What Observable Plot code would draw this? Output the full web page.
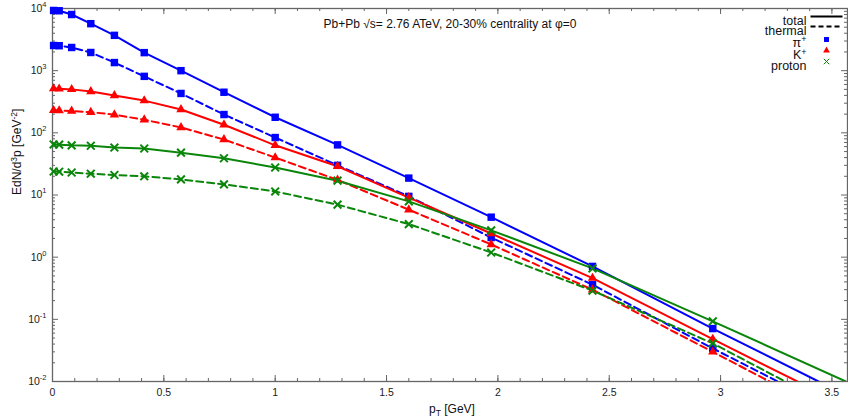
<!DOCTYPE html>
<html>
<head>
<meta charset="utf-8">
<script src="https://cdn.jsdelivr.net/npm/d3@7"></script>
<script src="https://cdn.jsdelivr.net/npm/@observablehq/plot@0.6"></script>
<style>
  html, body { margin: 0; padding: 0; background: #fff; }
</style>
</head>
<body>
<div id="chart"></div>
<script>
// ---- data ----
const pT = [0.005, 0.03, 0.086, 0.172, 0.278, 0.412, 0.577, 0.77, 1.0, 1.28, 1.6, 1.97, 2.425, 2.965];
const piTotal   = [9300, 9200, 8000, 5700, 3700, 1950, 1000, 450, 178, 64, 18.7, 4.4, 0.71, 0.071];
const piThermal = [2540, 2520, 2360, 1960, 1350, 810, 430, 197, 84, 30, 9.5, 2.07, 0.36, 0.034];
const kTotal    = [515, 510, 500, 462, 400, 330, 237, 135, 63, 29, 9.1, 2.4, 0.46, 0.048];
const kThermal  = [230, 228, 225, 215, 196, 162, 122, 78, 40, 17.5, 5.8, 1.6, 0.30, 0.030];
const pTotal    = [65, 64.5, 63, 62, 58, 56, 48, 39, 27.7, 17, 7.9, 2.7, 0.66, 0.093];
const pThermal  = [23.9, 23.7, 23, 22, 21, 20, 17.8, 14.8, 11.4, 7.0, 3.4, 1.19, 0.29, 0.041];
// where each curve leaves the frame at the bottom (y = 1e-2)
const seriesNames = ["piTotal", "piThermal", "kTotal", "kThermal", "pTotal", "pThermal"];
const seriesEndPT = [3.44, 3.257, 3.345, 3.22, 3.56, 3.29];
const seriesEndY  = [0.01, 0.01, 0.01, 0.01, 0.0101, 0.01];
const xMajor = [0, 0.5, 1, 1.5, 2, 2.5, 3, 3.5];
const yMajor = [1e-2, 1e-1, 1e0, 1e1, 1e2, 1e3, 1e4];
const legendLabels = ["total", "thermal", "π+", "K+", "proton"];
const titleText = "Pb+Pb √s= 2.76 ATeV, 20-30% centrality at φ=0";
const yTitle = "EdN/d^3p [GeV^-2]";
const xTitle = "p_T [GeV]";

// ---- styles ----
const BLUE = "#0000ff", RED = "#ff0000", GREEN = "#0a860a";
const AX = "#666";
const series = [
  {vals: piTotal,   color: BLUE,  dash: null, symbol: "square"},
  {vals: piThermal, color: BLUE,  dash: "7,4", symbol: "square"},
  {vals: kTotal,    color: RED,   dash: null, symbol: "triangle"},
  {vals: kThermal,  color: RED,   dash: "7,4", symbol: "triangle"},
  {vals: pTotal,    color: GREEN, dash: null, symbol: "times"},
  {vals: pThermal,  color: GREEN, dash: "7,4", symbol: "times"}
];

const W = 848, H = 419, mL = 52, mR = 1, mT = 8, mB = 38;
const fw = W - mL - mR, fh = H - mT - mB;

const xMinor = d3.range(0, 36).map(i => i / 10);
const yMinor = [];
for (let e = -2; e < 4; e++) for (let k = 2; k <= 9; k++) yMinor.push(k * Math.pow(10, e));

const marks = [];
// ticks (inward, mirrored on all sides)
marks.push(Plot.ruleX(xMinor, {insetTop: fh - 3, stroke: AX}));
marks.push(Plot.ruleX(xMinor, {insetBottom: fh - 3, stroke: AX}));
marks.push(Plot.ruleX(xMajor, {insetTop: fh - 6, stroke: AX}));
marks.push(Plot.ruleX(xMajor, {insetBottom: fh - 6, stroke: AX}));
marks.push(Plot.ruleY(yMinor, {insetRight: fw - 3, stroke: AX}));
marks.push(Plot.ruleY(yMinor, {insetLeft: fw - 3, stroke: AX}));
marks.push(Plot.ruleY(yMajor, {insetRight: fw - 6, stroke: AX}));
marks.push(Plot.ruleY(yMajor, {insetLeft: fw - 6, stroke: AX}));
marks.push(Plot.frame({stroke: AX, strokeWidth: 1.3}));

// tick labels
marks.push(Plot.axisX(xMajor, {tickSize: 0, tickPadding: 7, fontSize: 10.5, fill: "#222", tickFormat: d => String(d), label: null}));
marks.push(Plot.axisY(yMajor, {tickSize: 0, tickPadding: 6, fontSize: 10.5, fill: "#222", tickFormat: d => "10^" + Math.round(Math.log10(d)), label: null}));

// curves
series.forEach((s, i) => {
  const rows = s.vals.map((v, j) => ({x: pT[j], y: v}));
  rows.push({x: seriesEndPT[i], y: seriesEndY[i]});
  marks.push(Plot.line(rows, {x: "x", y: "y", stroke: s.color, strokeWidth: 2, strokeDasharray: s.dash, clip: true}));
});
// markers
series.forEach((s) => {
  const rows = s.vals.map((v, j) => ({x: pT[j], y: v}));
  if (s.symbol === "times") {
    marks.push(Plot.dot(rows, {x: "x", y: "y", symbol: "times", r: 3.6, stroke: s.color, strokeWidth: 2}));
  } else if (s.symbol === "square") {
    marks.push(Plot.dot(rows, {x: "x", y: "y", symbol: "square", r: 4.2, fill: s.color, stroke: null}));
  } else {
    marks.push(Plot.dot(rows, {x: "x", y: "y", symbol: "triangle", r: 3.5, fill: s.color, stroke: null}));
  }
});

// title
marks.push(Plot.text([titleText], {frameAnchor: "top", dy: 11, fontSize: 12, fill: "#111"}));
// axis titles
marks.push(Plot.text([yTitle], {frameAnchor: "left", dx: -35, rotate: -90, fontSize: 12, fill: "#111"}));
marks.push(Plot.text([xTitle], {frameAnchor: "bottom", dx: 2, dy: 31, fontSize: 12, fill: "#111"}));

// legend
const legDy = [8, 18, 30, 42, 53];
legendLabels.forEach((lab, i) => {
  marks.push(Plot.text([lab], {frameAnchor: "top-right", dx: -41, dy: legDy[i], textAnchor: "end", fontSize: 12.5, fill: "#111"}));
});
const hLine = {draw(ctx) { ctx.moveTo(-16, 0); ctx.lineTo(16, 0); }};
marks.push(Plot.dot([0], {frameAnchor: "top-right", dx: -21, dy: 8, symbol: hLine, stroke: "#000", strokeWidth: 2, fill: "none"}));
marks.push(Plot.dot([0], {frameAnchor: "top-right", dx: -21, dy: 18, symbol: hLine, stroke: "#000", strokeWidth: 2, fill: "none", strokeDasharray: "5,3"}));
marks.push(Plot.dot([0], {frameAnchor: "top-right", dx: -21, dy: 31, symbol: "square", r: 2.8, fill: BLUE, stroke: null}));
marks.push(Plot.dot([0], {frameAnchor: "top-right", dx: -21, dy: 42, symbol: "triangle", r: 2.5, fill: RED, stroke: null}));
marks.push(Plot.dot([0], {frameAnchor: "top-right", dx: -21, dy: 53, symbol: "times", r: 2.6, stroke: GREEN, strokeWidth: 1}));

const chart = Plot.plot({
  width: W, height: H,
  marginLeft: mL, marginRight: mR, marginTop: mT, marginBottom: mB,
  style: {fontFamily: "'Liberation Sans', Arial, sans-serif", background: "#fff", color: "#222", overflow: "visible"},
  x: {domain: [0, 3.57], label: null, axis: null},
  y: {type: "log", domain: [0.01, 10000], label: null, axis: null},
  marks
});
document.getElementById("chart").appendChild(chart);

// ---- rich text (superscripts / subscripts) ----
const NS = "http://www.w3.org/2000/svg";
function rich(t, parts) {
  while (t.firstChild) t.removeChild(t.firstChild);
  let cur = 0;
  parts.forEach(p => {
    const ts = document.createElementNS(NS, "tspan");
    const shift = p.shift || 0;
    if (shift !== cur) ts.setAttribute("dy", String(shift - cur));
    cur = shift;
    if (p.size) ts.setAttribute("font-size", p.size);
    ts.textContent = p.t;
    t.appendChild(ts);
  });
}
chart.querySelectorAll("text").forEach(t => {
  const s = t.textContent;
  if (/^10\^/.test(s)) {
    const [b, e] = s.split("^");
    rich(t, [{t: b}, {t: e, shift: -5, size: 7.5}]);
  } else if (s === yTitle) {
    rich(t, [{t: "EdN/d"}, {t: "3", shift: -4, size: 8.5}, {t: "p [GeV"}, {t: "-2", shift: -4, size: 8.5}, {t: "]"}]);
  } else if (s === xTitle) {
    rich(t, [{t: "p"}, {t: "T", shift: 3, size: 8.5}, {t: " [GeV]"}]);
  } else if (s === "π+") {
    rich(t, [{t: "π"}, {t: "+", shift: -5, size: 9}]);
  } else if (s === "K+") {
    rich(t, [{t: "K"}, {t: "+", shift: -4, size: 9}]);
  }
});
</script>
</body>
</html>
